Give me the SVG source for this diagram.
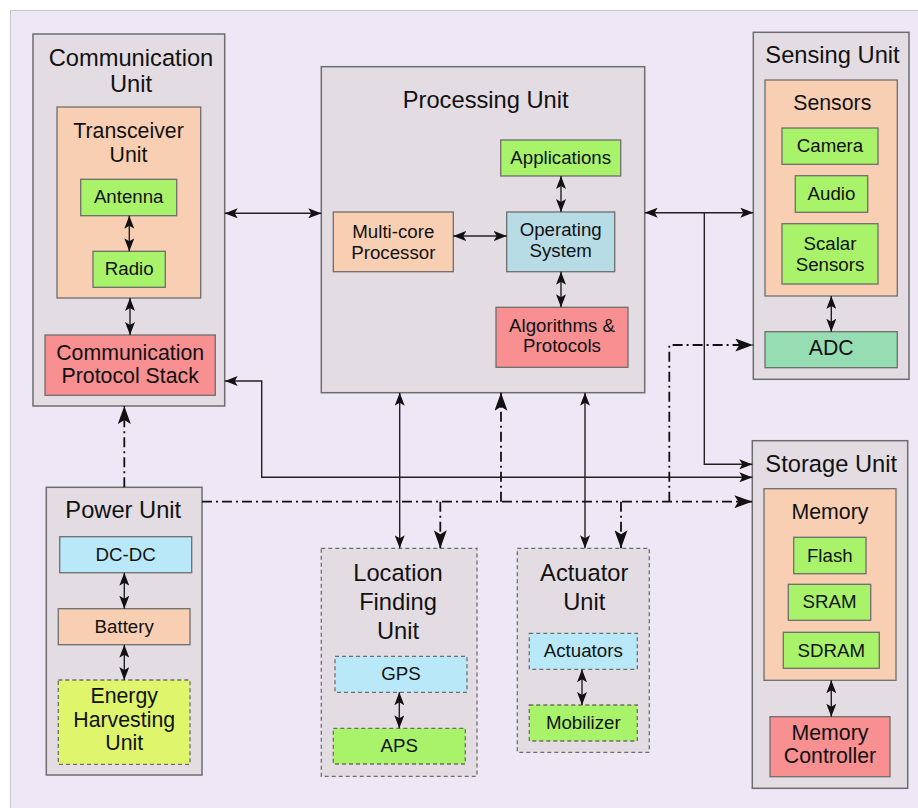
<svg xmlns="http://www.w3.org/2000/svg" width="918" height="808" viewBox="0 0 918 808">
<style>
text{font-family:"Liberation Sans",Arial,sans-serif;fill:#111;text-anchor:middle}
.t{font-size:23.7px}
.m{font-size:21.3px}
.s{font-size:18.7px}
.unit{fill:#E4DCE3;stroke:#6E6E6E;stroke-width:1.5}
.dunit{fill:#E4DCE3;stroke:#6E6E6E;stroke-width:1.3;stroke-dasharray:4 3}
.peach{fill:#F9CFB3;stroke:#6E6E6E;stroke-width:1.3}
.green{fill:#A8F36A;stroke:#6E6E6E;stroke-width:1.3}
.red{fill:#F88F91;stroke:#6E6E6E;stroke-width:1.3}
.blue{fill:#B8DCE6;stroke:#6E6E6E;stroke-width:1.3}
.cyan{fill:#B9E9F8;stroke:#6E6E6E;stroke-width:1.3}
.mint{fill:#97DDB4;stroke:#6E6E6E;stroke-width:1.3}
.dcyan{fill:#B9E9F8;stroke:#6E6E6E;stroke-width:1.3;stroke-dasharray:4 3}
.dgreen{fill:#A8F36A;stroke:#6E6E6E;stroke-width:1.3;stroke-dasharray:4 3}
.dyellow{fill:#DFF56C;stroke:#6E6E6E;stroke-width:1.3;stroke-dasharray:4 3}
.c{fill:none;stroke:#222;stroke-width:1.4}
.cb{fill:none;stroke:#222;stroke-width:1.4;marker-start:url(#sa);marker-end:url(#sa)}
.ce{fill:none;stroke:#222;stroke-width:1.4;marker-end:url(#sa)}
.dd{fill:none;stroke:#111;stroke-width:1.8;stroke-dasharray:10 4 2 4}
.dde{fill:none;stroke:#111;stroke-width:1.8;stroke-dasharray:10 4 2 4;marker-end:url(#ba)}
</style>
<defs>
<marker id="sa" viewBox="0 0 13 10" refX="13" refY="5" markerWidth="13" markerHeight="10" markerUnits="userSpaceOnUse" orient="auto-start-reverse"><path d="M0,0 L13,5 L0,10 L3,5 Z" fill="#111"/></marker>
<marker id="ba" viewBox="0 0 18 13" refX="18" refY="6.5" markerWidth="18" markerHeight="13" markerUnits="userSpaceOnUse" orient="auto-start-reverse"><path d="M0,0 L18,6.5 L0,13 L4,6.5 Z" fill="#111"/></marker>
</defs>
<rect x="0" y="0" width="918" height="808" fill="#FFFFFF"/>
<rect x="10.5" y="10.5" width="920" height="820" fill="#EDE7F6" stroke="#C8C8C8" stroke-width="1"/>

<g id="communication-unit">
<rect class="unit" x="33" y="34" width="191.7" height="372"/>
<text class="t" x="131" y="66">Communication</text>
<text class="t" x="131" y="91.7">Unit</text>
<g id="transceiver-unit">
<rect class="peach" x="57" y="107" width="143.7" height="191"/>
<text class="m" x="128.5" y="137.7">Transceiver</text>
<text class="m" x="128.5" y="161.7">Unit</text>
</g>
<g id="antenna"><rect class="green" x="80.7" y="179.3" width="96" height="36.4"/><text class="s" x="128.7" y="203.3">Antenna</text></g>
<g id="radio"><rect class="green" x="93" y="251.3" width="72.3" height="36"/><text class="s" x="129.2" y="275.3">Radio</text></g>
<g id="comm-protocol-stack"><rect class="red" x="45" y="335" width="170.3" height="60.3"/><text class="m" x="130.2" y="360">Communication</text><text class="m" x="130.2" y="383">Protocol Stack</text></g>
</g>

<g id="processing-unit">
<rect class="unit" x="321.3" y="66.7" width="323.4" height="326"/>
<text class="t" x="485.7" y="108.3">Processing Unit</text>
<g id="applications"><rect class="green" x="500.7" y="140" width="120" height="36"/><text class="s" x="560.7" y="164.3">Applications</text></g>
<g id="operating-system"><rect class="blue" x="506.7" y="212" width="108" height="59.7"/><text class="s" x="560.7" y="236">Operating</text><text class="s" x="560.7" y="256.7">System</text></g>
<g id="multicore-processor"><rect class="peach" x="333.3" y="212" width="120" height="59.7"/><text class="s" x="393.3" y="238.3">Multi-core</text><text class="s" x="393.3" y="259">Processor</text></g>
<g id="algorithms-protocols"><rect class="red" x="496" y="307.3" width="132" height="60"/><text class="s" x="562" y="331.7">Algorithms &amp;</text><text class="s" x="562" y="351.7">Protocols</text></g>
</g>

<g id="sensing-unit">
<rect class="unit" x="753.3" y="32.3" width="155.7" height="347"/>
<text class="t" x="832.5" y="63.3">Sensing Unit</text>
<g id="sensors"><rect class="peach" x="765" y="80" width="132.3" height="216"/><text class="m" x="832.3" y="110">Sensors</text></g>
<g id="camera"><rect class="green" x="782" y="128" width="96" height="36.3"/><text class="s" x="830" y="152">Camera</text></g>
<g id="audio"><rect class="green" x="795.3" y="175.7" width="72.4" height="36.6"/><text class="s" x="831.5" y="200">Audio</text></g>
<g id="scalar-sensors"><rect class="green" x="782" y="223.7" width="96" height="60.3"/><text class="s" x="830" y="250">Scalar</text><text class="s" x="830" y="270.7">Sensors</text></g>
<g id="adc"><rect class="mint" x="765" y="331.7" width="132.3" height="36"/><text class="m" x="831.2" y="355">ADC</text></g>
</g>

<g id="storage-unit">
<rect class="unit" x="752.3" y="440.7" width="155.4" height="347.6"/>
<text class="t" x="831.2" y="471.7">Storage Unit</text>
<g id="memory"><rect class="peach" x="764" y="488.7" width="132" height="191.6"/><text class="m" x="830" y="519">Memory</text></g>
<g id="flash"><rect class="green" x="793.7" y="537.3" width="72.3" height="36.4"/><text class="s" x="829.8" y="561.7">Flash</text></g>
<g id="sram"><rect class="green" x="788.3" y="584.3" width="82.4" height="36"/><text class="s" x="829.5" y="608.3">SRAM</text></g>
<g id="sdram"><rect class="green" x="783.3" y="632.3" width="96" height="36"/><text class="s" x="831.3" y="656.7">SDRAM</text></g>
<g id="memory-controller"><rect class="red" x="770" y="716.7" width="120" height="60"/><text class="m" x="830" y="740">Memory</text><text class="m" x="830" y="763.3">Controller</text></g>
</g>

<g id="power-unit">
<rect class="unit" x="46.3" y="487.3" width="155.7" height="287.7"/>
<text class="t" x="123.3" y="518.3">Power Unit</text>
<g id="dc-dc"><rect class="cyan" x="59.7" y="536.7" width="132" height="36"/><text class="s" x="125.7" y="561">DC-DC</text></g>
<g id="battery"><rect class="peach" x="58.3" y="608.7" width="131.7" height="36"/><text class="s" x="124.2" y="633.3">Battery</text></g>
<g id="energy-harvesting"><rect class="dyellow" x="58.3" y="680" width="131.7" height="84.3"/><text class="m" x="124.2" y="702.7">Energy</text><text class="m" x="124.2" y="726.7">Harvesting</text><text class="m" x="124.2" y="750">Unit</text></g>
</g>

<g id="location-finding-unit">
<rect class="dunit" x="321.3" y="548.3" width="155.7" height="228"/>
<text class="t" x="398" y="580.7">Location</text>
<text class="t" x="398" y="610">Finding</text>
<text class="t" x="398" y="639.3">Unit</text>
<g id="gps"><rect class="dcyan" x="335" y="656.3" width="132" height="36"/><text class="s" x="401" y="680">GPS</text></g>
<g id="aps"><rect class="dgreen" x="333.3" y="728.3" width="132" height="35.7"/><text class="s" x="399.3" y="751.7">APS</text></g>
</g>

<g id="actuator-unit">
<rect class="dunit" x="517.3" y="548.3" width="132" height="204"/>
<text class="t" x="584.2" y="580.7">Actuator</text>
<text class="t" x="584.2" y="610">Unit</text>
<g id="actuators"><rect class="dcyan" x="529.3" y="633.3" width="108" height="36"/><text class="s" x="583.3" y="657.3">Actuators</text></g>
<g id="mobilizer"><rect class="dgreen" x="529.3" y="705" width="108" height="36"/><text class="s" x="583.3" y="729.3">Mobilizer</text></g>
</g>

<g id="connectors">
<path class="cb" d="M224.7,213.3 H321.3"/>
<path class="cb" d="M129.3,215.7 V251.3"/>
<path class="cb" d="M130,298 V335"/>
<path class="cb" d="M561,176 V212"/>
<path class="cb" d="M561,271.7 V307.3"/>
<path class="cb" d="M453.3,236 H506.7"/>
<path class="cb" d="M644.7,212.7 H753.3"/>
<path class="ce" d="M704.3,212.7 V464.3 H752.3"/>
<path class="cb" d="M831.3,296 V331.7"/>
<path class="cb" d="M752.3,477.3 H261.7 V381 H224.7"/>
<path class="cb" d="M831.3,680.3 V716.7"/>
<path class="cb" d="M124.3,572.7 V608.7"/>
<path class="cb" d="M124.3,644.7 V680"/>
<path class="cb" d="M399.7,392.7 V548.3"/>
<path class="cb" d="M585,392.7 V548.3"/>
<path class="cb" d="M399.3,692.3 V728.3"/>
<path class="cb" d="M582,669.3 V705"/>
<path class="dde" d="M124.3,487.3 V406"/>
<path class="dde" d="M202,501.7 H752.3"/>
<path class="dde" d="M501,501.7 V392.7"/>
<path class="dde" d="M440.3,501.7 V548.3"/>
<path class="dde" d="M621,501.7 V548.3"/>
<path class="dde" d="M669.3,501.7 V345 H753.3"/>
</g>
</svg>
